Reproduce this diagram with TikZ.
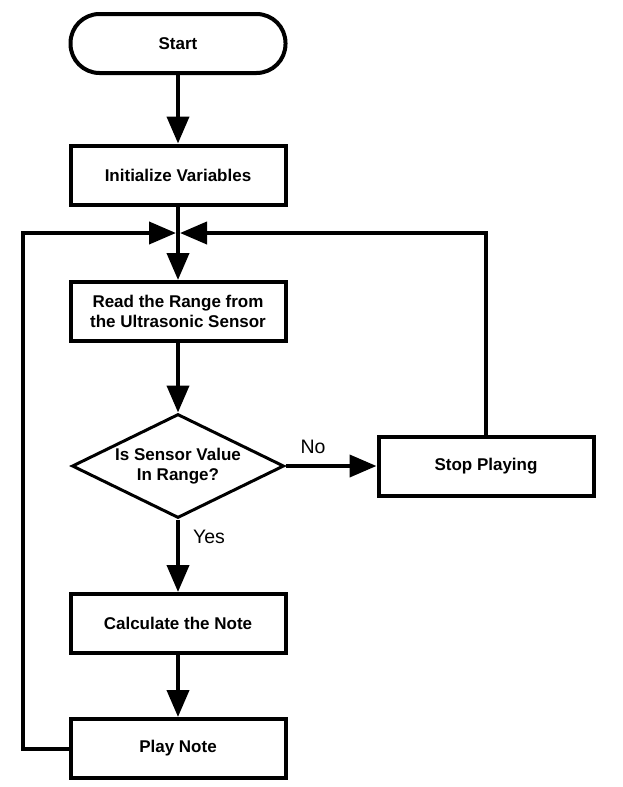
\documentclass[tikz,border=0pt]{standalone}
\usepackage{fontspec}
\setmainfont{Liberation Sans}
\usetikzlibrary{shapes.geometric,arrows.meta}

\tikzset{
  box/.style={draw, line width=4pt, minimum width=215pt, minimum height=59pt,
    inner sep=0pt, align=center, font=\bfseries\fontsize{17}{20}\selectfont},
  terminal/.style={box, rounded corners=29pt},
  decision/.style={draw, diamond, aspect=2, line width=3pt, minimum width=212pt,
    minimum height=104pt, inner sep=0pt, align=center,
    font=\bfseries\fontsize{17}{19.5}\selectfont},
  flow/.style={line width=4pt, -{Triangle[length=27pt,width=22pt]}},
  lbl/.style={font=\fontsize{19.5}{22}\selectfont}
}

\begin{document}
\begin{tikzpicture}[x=1pt, y=-1pt]
				\useasboundingbox (0,0) rectangle (623,787);
				\node[terminal] (start) at (178,43.5) {Start};
				\node[box] (init) at (178,175) {Initialize Variables};
				\node[box] (read) at (178,311.5) {Read the Range from\\the Ultrasonic Sensor};
				\node[decision] (dec) at (178,466) {Is Sensor Value\\In Range?};
				\node[box] (stop) at (486,466) {Stop Playing};
				\node[box] (calc) at (178,623.5) {Calculate the Note};
				\node[box] (play) at (178,748.5) {Play Note};
				\coordinate (join) at (178,233);
				\draw[flow] (start) -- (init);
				\draw[flow] (init) -- (read);
				\draw[flow] (read) -- (dec);
				\draw[flow] (dec) -- (stop);
				\draw[flow] (dec) -- (calc);
				\draw[flow] (calc) -- (play);
				\draw[flow] (play.west) -- ++(-46,0) |- ([xshift=-2pt]join);
				\draw[flow] (stop.north) |- ([xshift=2pt]join);
				\node[lbl] (no) at (313,447) {No};
				\node[lbl] (yes) at (209,537) {Yes};
			\end{tikzpicture}
\end{document}
